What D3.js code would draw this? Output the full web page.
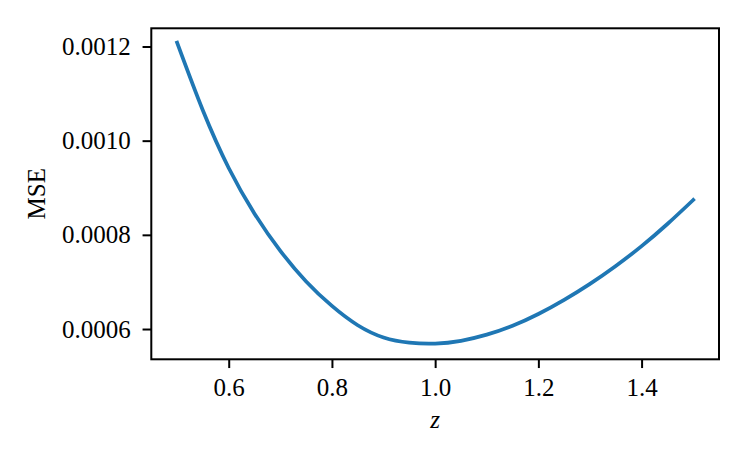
<!DOCTYPE html>
<html>
<head>
<meta charset="utf-8">
<script src="https://cdn.jsdelivr.net/npm/d3@7"></script>
<style>
  body { margin: 0; background: #fff; }
  svg text { font-family: "Liberation Serif", "DejaVu Serif", serif; fill: #000; }
</style>
</head>
<body>
<svg id="chart" width="747" height="462"></svg>
<script>
// ============================= Datos =========================//
var zValues = [0.50, 0.55, 0.60, 0.65, 0.70, 0.75, 0.80, 0.85, 0.90, 0.95, 1.00,
               1.05, 1.10, 1.15, 1.20, 1.25, 1.30, 1.35, 1.40, 1.45, 1.50];
var mseValues = [0.001208, 0.001064, 0.000942, 0.000845, 0.000766, 0.000701, 0.000649,
                 0.000608, 0.000582, 0.000571, 0.000569, 0.000575, 0.000588, 0.000607,
                 0.000632, 0.000662, 0.000696, 0.000734, 0.000776, 0.000823, 0.000874];
var xTicks = [0.6, 0.8, 1.0, 1.2, 1.4];
var yTicks = [0.0006, 0.0008, 0.0010, 0.0012];

// ============================= Layout =========================//
// ojo: "top" es window.top, no se puede usar como variable global
var plotLeft = 151.3, plotRight = 719, plotTop = 28.3, plotBottom = 359.3;
var tickLen = 8.75;
var fontSize = 25;

var svg = d3.select("#chart");

var x = d3.scaleLinear().domain([0.45, 1.55]).range([plotLeft, plotRight]);
var y = d3.scaleLinear().domain([0.0005357, 0.0012386]).range([plotBottom, plotTop]);

var data = zValues.map(function(z, i) { return { z: z, mse: mseValues[i] }; });

// linea
var line = d3.line()
  .x(function(d) { return x(d.z); })
  .y(function(d) { return y(d.mse); })
  .curve(d3.curveNatural);

svg.append("path")
  .datum(data)
  .attr("fill", "none")
  .attr("stroke", "#1f77b4")
  .attr("stroke-width", 3.75)
  .attr("stroke-linecap", "square")
  .attr("d", line);

// ejes
var xAxis = svg.append("g")
  .attr("transform", "translate(0," + plotBottom + ")")
  .call(d3.axisBottom(x)
    .tickValues(xTicks)
    .tickSize(tickLen)
    .tickSizeOuter(0)
    .tickFormat(d3.format(".1f")));

xAxis.selectAll("text")
  .attr("y", 36.5)
  .attr("dy", "0")
  .style("font-size", fontSize + "px");

var yAxis = svg.append("g")
  .attr("transform", "translate(" + plotLeft + ",0)")
  .call(d3.axisLeft(y)
    .tickValues(yTicks)
    .tickSize(tickLen)
    .tickPadding(11.75)
    .tickSizeOuter(0)
    .tickFormat(d3.format(".4f")));

yAxis.selectAll("text")
  .attr("dy", "0.32em")
  .style("font-size", fontSize + "px");

[xAxis, yAxis].forEach(function(g) {
  g.select(".domain").remove();
  g.selectAll(".tick line").attr("stroke", "#000").attr("stroke-width", 2);
});

// marco
svg.append("rect")
  .attr("x", plotLeft)
  .attr("y", plotTop)
  .attr("width", plotRight - plotLeft)
  .attr("height", plotBottom - plotTop)
  .attr("fill", "none")
  .attr("stroke", "#000")
  .attr("stroke-width", 2);

// titulos de ejes
svg.append("text")
  .attr("x", (plotLeft + plotRight) / 2)
  .attr("y", 427.7)
  .attr("text-anchor", "middle")
  .style("font-size", fontSize + "px")
  .style("font-style", "italic")
  .text("z");

svg.append("text")
  .attr("transform", "translate(45," + ((plotTop + plotBottom) / 2) + ") rotate(-90)")
  .attr("text-anchor", "middle")
  .style("font-size", fontSize + "px")
  .text("MSE");
</script>
</body>
</html>
